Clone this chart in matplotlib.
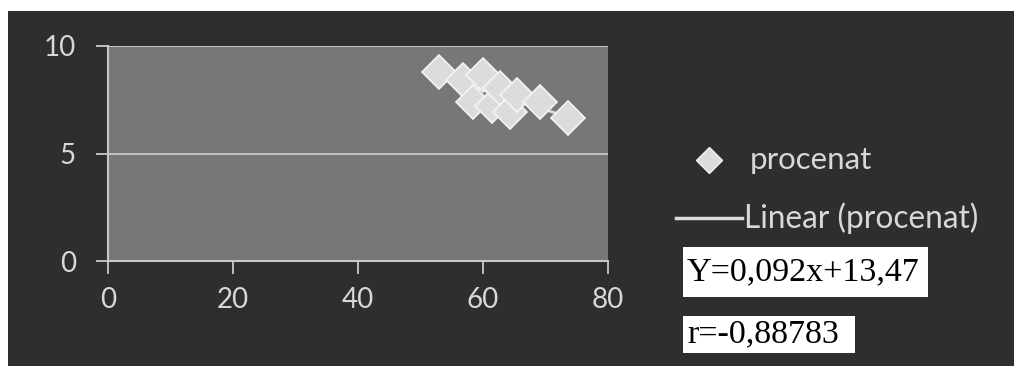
import matplotlib.pyplot as plt
import matplotlib.patches as mpatches
from matplotlib.lines import Line2D
import numpy as np

# data
x_vals = [52.9, 56.8, 60.0, 58.4, 61.4, 62.7, 64.3, 65.4, 69.1, 73.6]
y_vals = [8.78, 8.42, 8.65, 7.41, 7.2, 8.03, 6.95, 7.72, 7.38, 6.66]
x_ticks = [0, 20, 40, 60, 80]
y_ticks = [0, 5, 10]
series_name = 'procenat'
eq_text = 'Y=0,092x+13,47'
r_text = 'r=-0,88783'

W, H = 1014, 366
fig = plt.figure(figsize=(W / 100, H / 100), dpi=100, facecolor='white')

def fx(px):
    return px / W

def fy(py):
    return 1 - py / H

# dark chart background
fig.patches.append(mpatches.Rectangle((fx(8), 0), 1, fy(11), transform=fig.transFigure,
                                      facecolor='#2e2e2e', edgecolor='none', zorder=-5))

ax = fig.add_axes([fx(108), fy(261), 500 / W, 215 / H])
ax.set_zorder(3)
ax.set_facecolor('#777777')

# trendline
coef = np.polyfit(x_vals, y_vals, 1)
xl = np.array([min(x_vals), max(x_vals)])
ax.plot(xl, np.polyval(coef, xl), color='#dddddd', lw=2, zorder=2)
ax.plot(x_vals, y_vals, 'D', ms=17, mfc='#dcdcdc', mec='#f4f4f4', mew=1.2, zorder=3)

ax.set_xlim(0, 80)
ax.set_ylim(0, 10)
ax.set_xticks(x_ticks)
ax.set_yticks(y_ticks)
ax.grid(axis='y', color='#d0d0d0', lw=1.2)
ax.set_axisbelow(True)
for s in ['top', 'right']:
    ax.spines[s].set_visible(False)
for s in ['left', 'bottom']:
    ax.spines[s].set_color('#c8c8c8')
    ax.spines[s].set_linewidth(1.5)
ax.tick_params(colors='#d8d8d8', labelsize=20, length=9, width=1.2, direction='out', pad=10)
for lab in ax.get_xticklabels() + ax.get_yticklabels():
    lab.set_fontfamily('Lato')
ax.tick_params(axis='y', pad=14)

# legend drawn by hand
fig.add_artist(Line2D([fx(709)], [fy(160)], marker='D', ms=13, mfc='#dcdcdc', mec='#f4f4f4',
                      mew=1, transform=fig.transFigure))
fig.text(fx(750), fy(160), series_name, family='Lato', size=22.5, color='#d8d8d8',
         va='center', ha='left')
fig.add_artist(Line2D([fx(676), fx(742)], [fy(218), fy(218)], color='#dddddd', lw=2.5,
                      transform=fig.transFigure))
fig.text(fx(744), fy(218), 'Linear (' + series_name + ')', family='Lato', size=22.8,
         color='#d8d8d8', va='center', ha='left')

# white equation boxes
for (x0, y0, x1, y1, txt) in [(683, 247, 928, 297, eq_text), (683, 316, 855, 353, r_text)]:
    fig.patches.append(mpatches.Rectangle((fx(x0), fy(y1)), (x1 - x0) / W, (y1 - y0) / H,
                                          transform=fig.transFigure, facecolor='white',
                                          edgecolor='none', zorder=1))
    fig.text(fx(x0 + 4), fy((y0 + y1) / 2), txt, family='Liberation Serif', size=24.5,
             color='black', va='center', ha='left', zorder=2)

fig.savefig('out.png', dpi=100, facecolor='white')
